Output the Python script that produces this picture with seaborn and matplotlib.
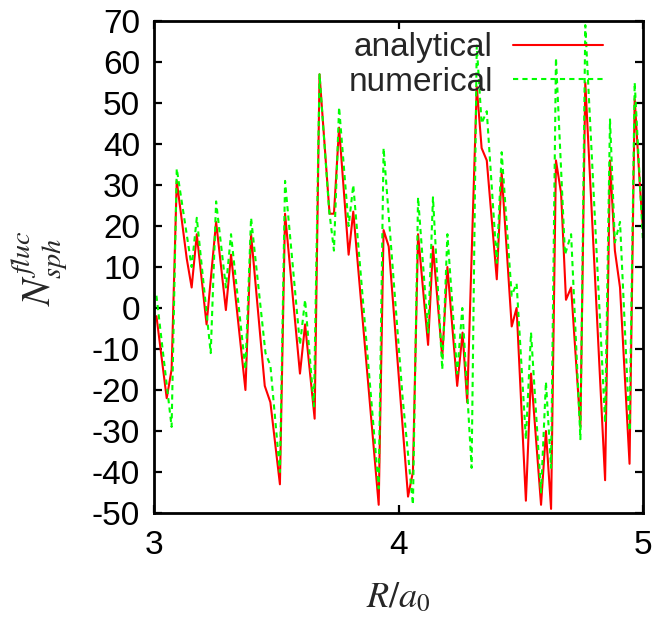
import matplotlib
matplotlib.use("Agg")
import matplotlib.pyplot as plt
import seaborn as sns
import numpy as np

# ---- data ----
x_analytical = [3.010, 3.052, 3.072, 3.093, 3.134, 3.154, 3.175, 3.215, 3.254, 3.294,
                3.315, 3.374, 3.397, 3.453, 3.476, 3.515, 3.536, 3.597, 3.618, 3.657,
                3.677, 3.718, 3.736, 3.757, 3.796, 3.815, 3.919, 3.939, 3.960, 4.039,
                4.059, 4.080, 4.121, 4.141, 4.179, 4.200, 4.240, 4.262, 4.281, 4.320,
                4.340, 4.361, 4.402, 4.422, 4.463, 4.483, 4.521, 4.542, 4.583, 4.603,
                4.624, 4.644, 4.665, 4.685, 4.706, 4.744, 4.764, 4.845, 4.865, 4.885,
                4.906, 4.945, 4.966, 4.986, 5.000]
y_analytical = [-2, -22, -15, 31, 12, 5, 18, -4, 21, -0.5,
                13, -20, 18, -19, -23, -43, 23, -16, -4, -27,
                57, 23, 23, 44, 13, 23.5, -48, 19, 15, -46,
                -40, 18, -9, 15, -12, 10, -19, -6, -23, 54,
                39, 36, 7, 33, -4.5, 0, -47, -16, -48, -30,
                -49, 36, 28, 2, 5, -29, 55, -42, 36, 14,
                5, -38, 51, 31, 19]

x_numerical = [3.010, 3.072, 3.093, 3.154, 3.175, 3.232, 3.254, 3.294, 3.315, 3.374,
               3.397, 3.456, 3.476, 3.515, 3.536, 3.597, 3.618, 3.654, 3.677, 3.716,
               3.736, 3.757, 3.796, 3.815, 3.919, 3.939, 4.017, 4.059, 4.080, 4.121,
               4.141, 4.179, 4.200, 4.240, 4.261, 4.299, 4.320, 4.340, 4.361, 4.402,
               4.422, 4.463, 4.483, 4.521, 4.542, 4.583, 4.603, 4.624, 4.644, 4.681,
               4.706, 4.744, 4.764, 4.845, 4.865, 4.885, 4.906, 4.945, 4.966, 4.986,
               5.000]
y_numerical = [3, -29, 34, 10, 22, -11, 26, 5, 18, -15,
               22, -11, -14, -40, 31, -9, 2, -24, 57, 24,
               14, 49, 20, 30, -44, 39, -22, -48, 27, -6,
               27, -15, 18, -16, 0, -39, 64, 45, 48, 11,
               38, 3, 6, -32, -6, -45, -18, -39, 61, 13,
               18, -32, 69, -28, 46, 16, 21, -30, 55, 32,
               16]

x_ticks = [3, 4, 5]
y_ticks = list(range(-50, 71, 10))

# ---- style ----
sns.set_theme(style="ticks")
plt.rcParams['font.family'] = ['Liberation Sans', 'DejaVu Sans']
plt.rcParams['mathtext.fontset'] = 'stix'

fig = plt.figure(figsize=(6.59, 6.17), dpi=100)
ax = fig.add_axes([154/659, 1 - 513/617, (643-154)/659, (513-21)/617])

sns.lineplot(x=x_analytical, y=y_analytical, ax=ax, color='#ff0000',
             linewidth=1.5, label='analytical', sort=False)
sns.lineplot(x=x_numerical, y=y_numerical, ax=ax, color='#00ff00',
             linewidth=1.5, linestyle=(0, (2.5, 2.0)), label='numerical', sort=False)

ax.set_xlim(3, 5)
ax.set_ylim(-50, 70)
ax.set_xticks(x_ticks)
ax.set_yticks(y_ticks)
ax.set_xticklabels([str(v) for v in x_ticks])
ax.set_yticklabels([str(v) for v in y_ticks])

for s in ax.spines.values():
    s.set_visible(True)
    s.set_linewidth(2.0)
    s.set_color('black')

ax.tick_params(axis='both', which='major', direction='in', length=6, width=1.6,
               top=True, right=True, labelsize=24, colors='black')
ax.tick_params(axis='x', pad=12)
ax.tick_params(axis='y', pad=10)

ax.set_xlabel(r'$R/a_0$', fontsize=26, va='center')
ax.set_ylabel(r'$N^{fluc}_{sph}$', fontsize=29, va='center')
ax.xaxis.set_label_coords(0.5, -0.173)
ax.yaxis.set_label_coords(-0.235, 0.498)

leg = ax.legend(loc='upper right', bbox_to_anchor=(0.918, 0.977), frameon=False,
                markerfirst=False, fontsize=24, handlelength=2.7, handletextpad=0.6,
                labelspacing=0.1, borderpad=0, borderaxespad=0)

fig.savefig('out.png', dpi=100)
